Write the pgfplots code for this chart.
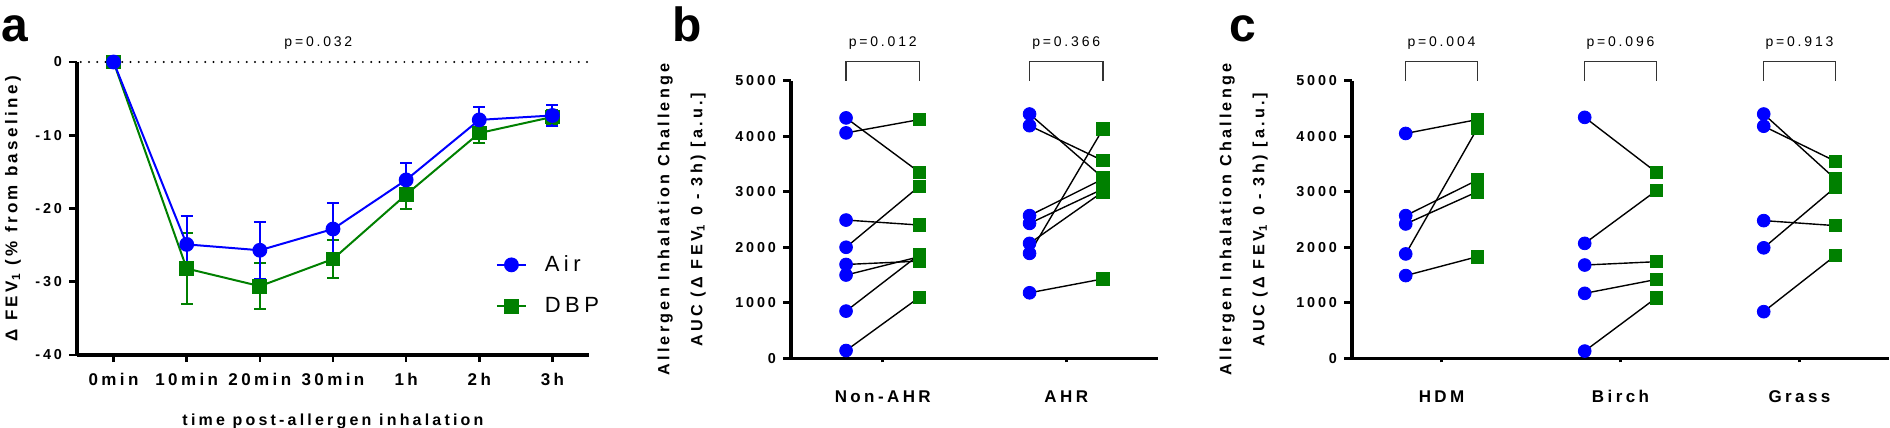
\documentclass[border=0pt]{standalone}
\usepackage{fontspec}
\setmainfont{Liberation Sans}[LetterSpace=20]
\newfontfamily\letterfont{Liberation Sans}
\usepackage{pgfplots}
\usepackage{pgfplotstable}
\pgfplotsset{compat=1.18}

\definecolor{airblue}{RGB}{0,0,255}
\definecolor{dbpgreen}{RGB}{0,128,0}

% panel a: mean +- error, Air vs DBP
\pgfplotstableread{
t air airerr dbp dbperr
0 0 0 0 0
1 -24.9 3.9 -28.2 4.8
2 -25.7 3.9 -30.6 3.1
3 -22.8 3.5 -26.9 2.6
4 -16.1 2.3 -18.1 1.9
5 -7.9 1.7 -9.7 1.3
6 -7.3 1.4 -7.5 1.0
}\timecourse

% panel b: g=0 Non-AHR, g=1 AHR; pre = Air, post = DBP
\pgfplotstableread{
g pre post
0 4330 3350
0 4060 4300
0 2490 2400
0 2000 3100
0 1690 1750
0 1500 1830
0 850 1870
0 140 1100
1 4400 3250
1 4190 3560
1 2570 3230
1 2430 3050
1 2070 3000
1 1890 4130
1 1180 1430
}\ahrtab

% panel c: g=0 HDM, g=1 Birch, g=2 Grass
\pgfplotstableread{
g pre post
0 4050 4300
0 2570 3210
0 2420 3000
0 1880 4140
0 1490 1830
1 4340 3350
1 2070 3020
1 1680 1740
1 1170 1420
1 130 1090
2 4400 3230
2 4180 3550
2 2480 2390
2 1990 3080
2 840 1850
}\allergentab

\pgfplotsset{
  prism/.style={
    scale only axis, clip=false,
    axis x line*=bottom, axis y line*=left,
    axis line style={line width=1.6pt, black},
    tick align=outside,
    major tick length=4pt,
    major tick style={line width=1.3pt, black},
    y tick label style={font=\bfseries\fontsize{7.2}{8}\selectfont},
  },
  paired/.style={
    prism,
    ymin=0, ymax=5000,
    ytick={0,1000,2000,3000,4000,5000},
    yticklabels={0,1000,2000,3000,4000,5000},
    xtick style={/pgfplots/major tick length=2pt},
    x tick label style={font=\bfseries\fontsize{8.5}{10}\selectfont, yshift=-8.5pt},
    ylabel={Allergen Inhalation Challenge\\AUC (Δ FEV\textsubscript{1} 0 - 3h) [a.u.]},
  },
}
\tikzset{
  pvalue/.style={anchor=base, font=\fontsize{7}{8}\selectfont},
  bracket/.style={black!80, line width=0.6pt},
}

\begin{document}
\begin{tikzpicture}
\useasboundingbox (0,0) rectangle (945pt,214pt);

% ---------------- a ----------------
\begin{axis}[prism,
  at={(38.5pt,36.5pt)}, anchor=south west,
  width=256pt, height=146.5pt,
  xmin=-0.5, xmax=6.5, ymin=-40, ymax=0,
  xtick={0,...,6},
  xticklabels={0min,10min,20min,30min,1h,2h,3h},
  ytick={-40,-30,-20,-10,0},
  yticklabels={-40,-30,-20,-10,0},
  xtick style={/pgfplots/major tick length=3.5pt},
  x tick label style={font=\bfseries\fontsize{8.5}{10}\selectfont, yshift=-1.5pt},
  xlabel={time post-allergen inhalation},
  ylabel={Δ FEV\textsubscript{1} (\% from baseline)},
  xlabel style={font=\bfseries\fontsize{8}{10}\selectfont,
    at={(axis description cs:0.5,-0.241)}, anchor=base},
  ylabel style={font=\bfseries\fontsize{8.5}{10}\selectfont,
    at={(axis description cs:-0.125,0.5)}, anchor=center},
  legend style={draw=none, fill=none, at={(axis cs:5.14,-25.8)}, anchor=north west,
    font=\fontsize{11}{13}\selectfont, row sep=11.5pt, column sep=9pt,
    nodes={inner sep=0pt}},
  legend image code/.code={\draw[mark repeat=2, mark phase=2]
    plot coordinates {(0pt,0pt) (7.25pt,0pt) (14.5pt,0pt)};},
  legend cell align=left, reverse legend,
]
\draw[line width=1.1pt, line cap=round, dash pattern=on 0pt off 4.15pt]
  (axis cs:-0.45,0) -- (axis cs:6.5,0);
\addplot[color=dbpgreen, line width=1pt, mark=square*, mark size=3.2pt,
  error bars/.cd, y dir=both, y explicit,
  error bar style={line width=1pt, dbpgreen},
  error mark options={rotate=90, mark size=3pt, line width=1pt, dbpgreen}]
  table[x=t, y=dbp, y error=dbperr] {\timecourse};
\addlegendentry{DBP}
\addplot[color=airblue, line width=1pt, mark=*, mark size=3.2pt,
  error bars/.cd, y dir=both, y explicit,
  error bar style={line width=1pt, airblue},
  error mark options={rotate=90, mark size=3pt, line width=1pt, airblue}]
  table[x=t, y=air, y error=airerr] {\timecourse};
\addlegendentry{Air}
\node[pvalue] at (axis cs:2.8,2.18) {p=0.032};
\end{axis}

% ---------------- b ----------------
\begin{axis}[paired,
  at={(395.5pt,34.85pt)}, anchor=south west,
  width=183.5pt, height=138.8pt,
  xmin=-0.5, xmax=1.5,
  xtick={0,1}, xticklabels={Non-AHR,AHR},
  ylabel style={align=center, font=\bfseries\fontsize{8.1}{16.5}\selectfont,
    at={(axis description cs:-0.298,0.5)}, anchor=center},
]
\addplot[only marks, mark=*, mark size=3.2pt, color=airblue]
  table[x expr=\thisrow{g}-0.2, y=pre] {\ahrtab};
\addplot[only marks, mark=square*, mark size=3.1pt, color=dbpgreen]
  table[x expr=\thisrow{g}+0.2, y=post] {\ahrtab};
\addplot[black, line width=0.7pt, quiver={u=0.4, v=\thisrow{post}-\thisrow{pre}}]
  table[x expr=\thisrow{g}-0.2, y=pre] {\ahrtab};
\draw[bracket] (axis cs:-0.2,5000) -- (axis cs:-0.2,5342) -- (axis cs:0.2,5342) -- (axis cs:0.2,5000);
\draw[bracket] (axis cs:0.8,5000) -- (axis cs:0.8,5342) -- (axis cs:1.2,5342) -- (axis cs:1.2,5000);
\node[pvalue] at (axis cs:0,5625) {p=0.012};
\node[pvalue] at (axis cs:1,5625) {p=0.366};
\end{axis}

% ---------------- c ----------------
\begin{axis}[paired,
  at={(676pt,34.85pt)}, anchor=south west,
  width=268.5pt, height=138.8pt,
  xmin=-0.5, xmax=2.5,
  xtick={0,1,2}, xticklabels={HDM,Birch,Grass},
  ylabel style={align=center, font=\bfseries\fontsize{8.1}{16.5}\selectfont,
    at={(axis description cs:-0.2015,0.5)}, anchor=center},
]
\addplot[only marks, mark=*, mark size=3.2pt, color=airblue]
  table[x expr=\thisrow{g}-0.2, y=pre] {\allergentab};
\addplot[only marks, mark=square*, mark size=3.1pt, color=dbpgreen]
  table[x expr=\thisrow{g}+0.2, y=post] {\allergentab};
\addplot[black, line width=0.7pt, quiver={u=0.4, v=\thisrow{post}-\thisrow{pre}}]
  table[x expr=\thisrow{g}-0.2, y=pre] {\allergentab};
\draw[bracket] (axis cs:-0.2,5000) -- (axis cs:-0.2,5342) -- (axis cs:0.2,5342) -- (axis cs:0.2,5000);
\draw[bracket] (axis cs:0.8,5000) -- (axis cs:0.8,5342) -- (axis cs:1.2,5342) -- (axis cs:1.2,5000);
\draw[bracket] (axis cs:1.8,5000) -- (axis cs:1.8,5342) -- (axis cs:2.2,5342) -- (axis cs:2.2,5000);
\node[pvalue] at (axis cs:0,5625) {p=0.004};
\node[pvalue] at (axis cs:1,5625) {p=0.096};
\node[pvalue] at (axis cs:2,5625) {p=0.913};
\end{axis}

% panel letters
\node[anchor=base west, font=\letterfont\bfseries\fontsize{24}{28}\selectfont, inner sep=0pt] at (0.5pt,193.2pt) {a};
\node[anchor=base west, font=\letterfont\bfseries\fontsize{24}{28}\selectfont, inner sep=0pt] at (336pt,193.2pt) {b};
\node[anchor=base west, font=\letterfont\bfseries\fontsize{24}{28}\selectfont, inner sep=0pt] at (614.5pt,193.2pt) {c};
\end{tikzpicture}
\end{document}
